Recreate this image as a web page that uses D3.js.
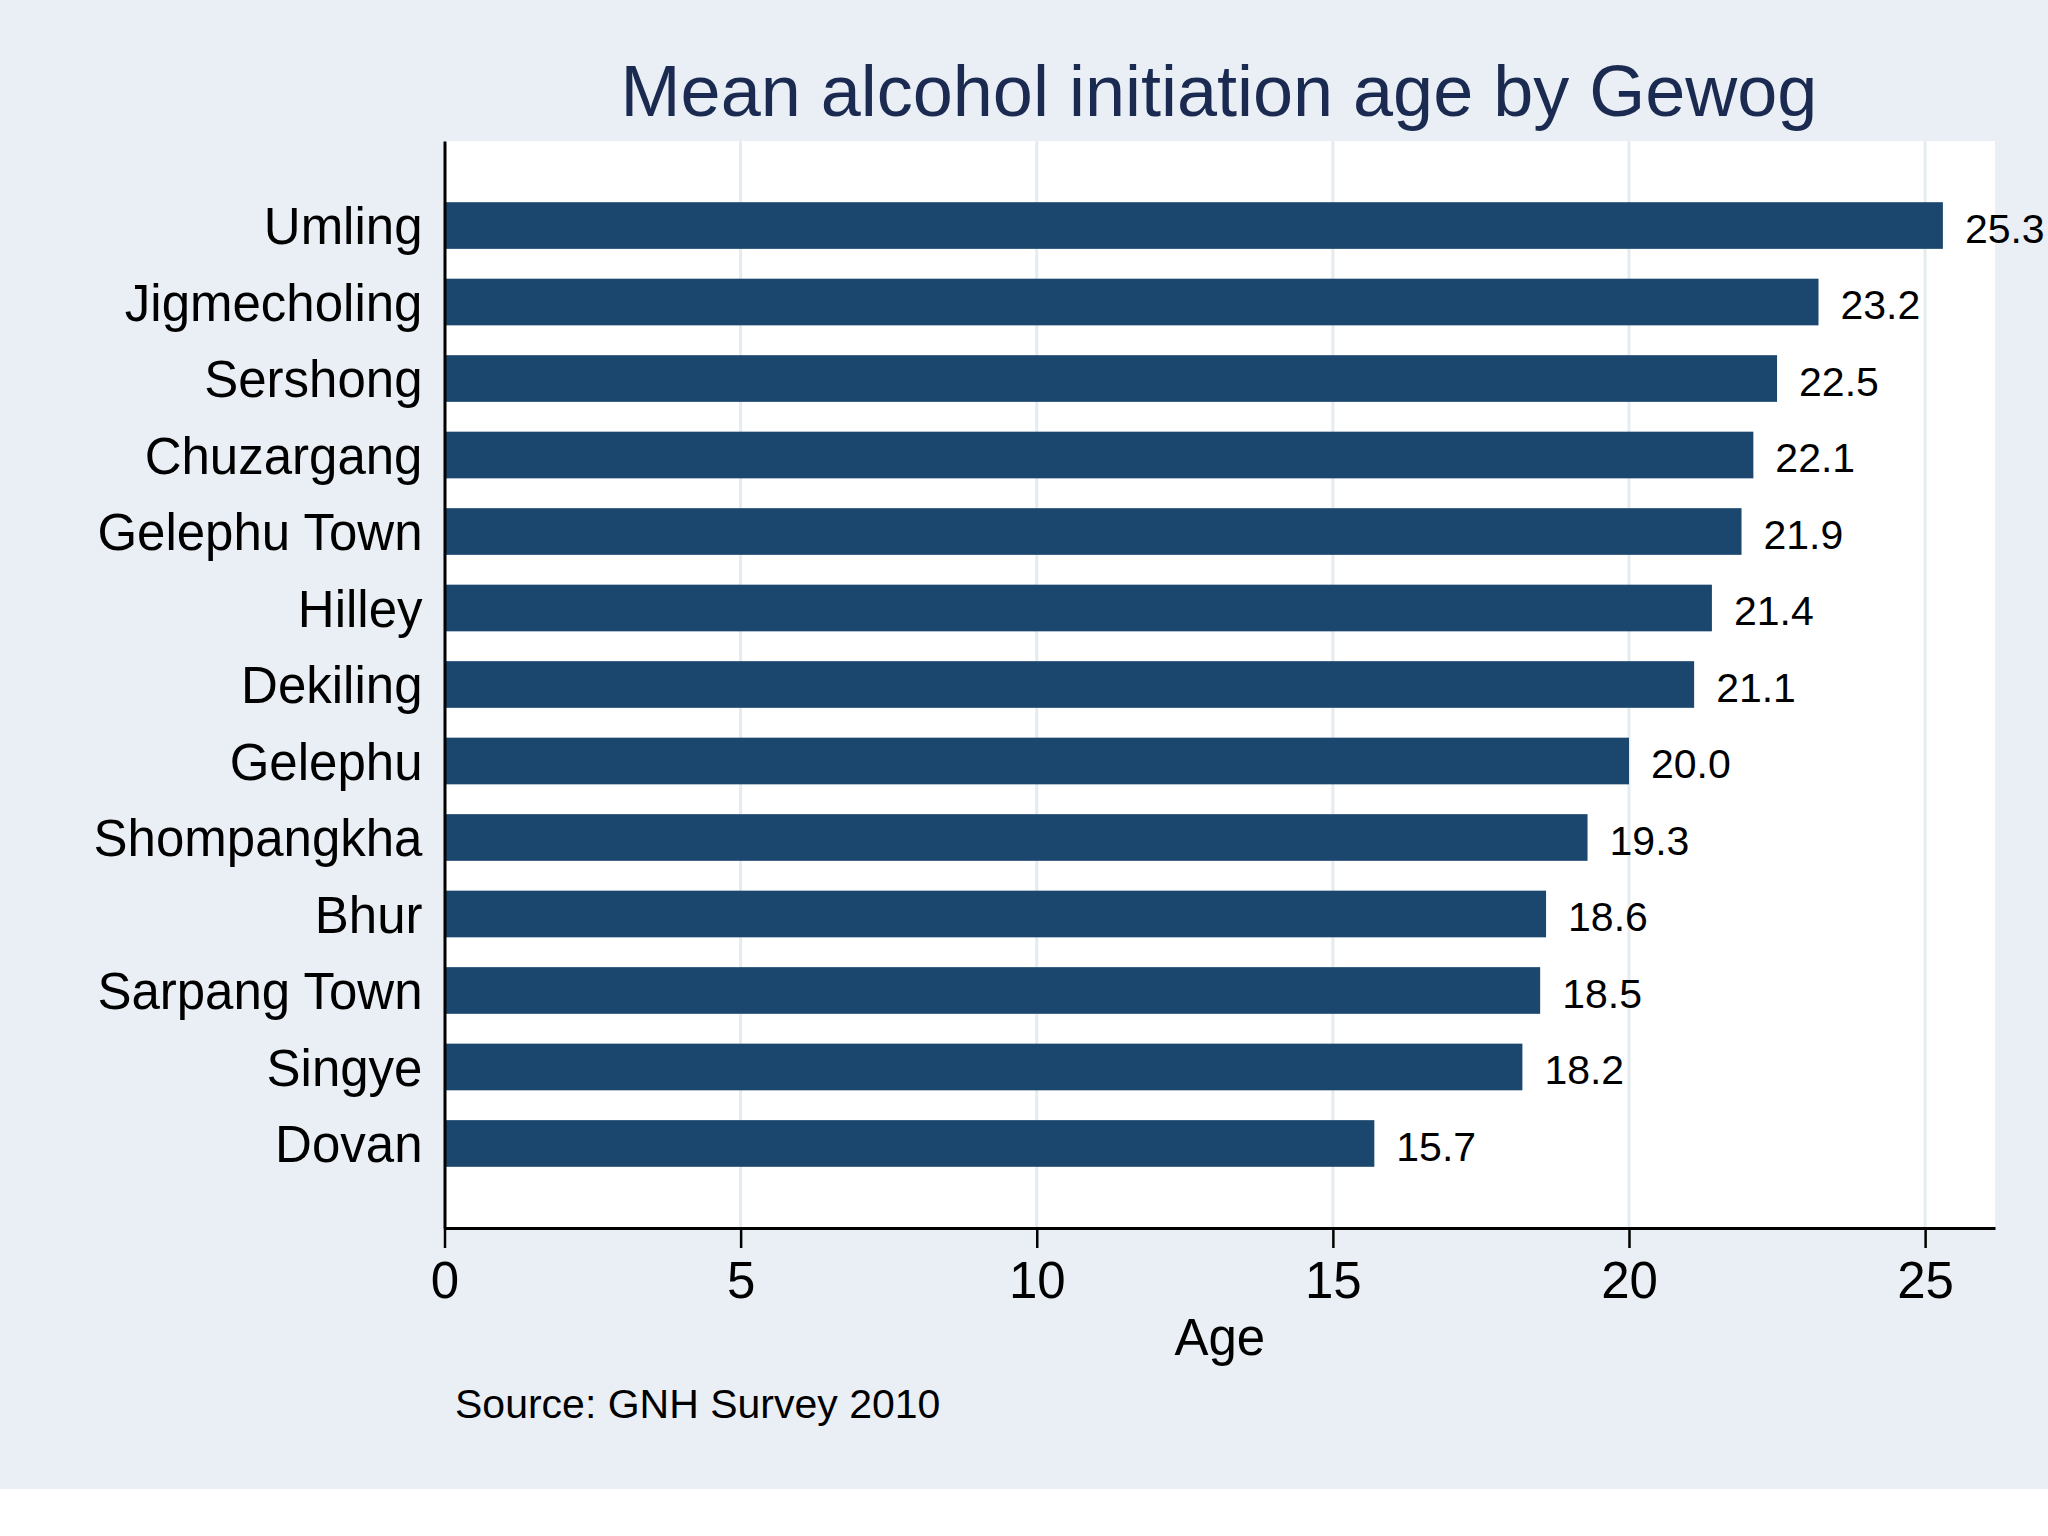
<!DOCTYPE html>
<html>
<head>
<meta charset="utf-8">
<script src="https://cdn.jsdelivr.net/npm/d3@7"></script>
<style>
  body { margin: 0; background: #ffffff; }
  svg { display: block; }
  text { font-family: "Liberation Sans", Arial, Helvetica, sans-serif; }
</style>
</head>
<body>
<div id="chart"></div>
<script>
//////////////////// data
var gewogs = ["Umling", "Jigmecholing", "Sershong", "Chuzargang", "Gelephu Town", "Hilley",
              "Dekiling", "Gelephu", "Shompangkha", "Bhur", "Sarpang Town", "Singye", "Dovan"];
var ages = [25.3, 23.2, 22.5, 22.1, 21.9, 21.4, 21.1, 20.0, 19.3, 18.6, 18.5, 18.2, 15.7];
var xTicks = [0, 5, 10, 15, 20, 25];

var titleText = "Mean alcohol initiation age by Gewog";
var xLabel = "Age";
var sourceText = "Source: GNH Survey 2010";

//////////////////// layout
var W = 2048, H = 1536;
var plot = { left: 444.5, right: 1995, top: 141, bottom: 1228 };
var colBar = "#1b476f", colBg = "#eaeff5", colGrid = "#e4ecf0", colTitle = "#1b2a50";

(function(){
  var svg = d3.select("#chart")
    .append("svg")
      .attr("width", W)
      .attr("height", H);

  // outer background (stops short of page bottom)
  svg.append("rect")
    .attr("x", 0).attr("y", 0)
    .attr("width", W).attr("height", 1489)
    .attr("fill", colBg);

  // plot region
  svg.append("rect")
    .attr("x", plot.left).attr("y", plot.top)
    .attr("width", plot.right - plot.left)
    .attr("height", plot.bottom - plot.top)
    .attr("fill", "#ffffff");

  ///////////////////////////////////////// scales
  var x = d3.scaleLinear()
    .domain([0, 26.18])
    .range([plot.left, plot.right]);

  var y = d3.scaleBand()
    .domain(gewogs)
    .range([plot.top, plot.bottom])
    .paddingInner(0.39)
    .paddingOuter(0.8);

  // grid lines
  svg.append("g")
    .selectAll("line")
    .data(xTicks)
    .enter().append("line")
      .attr("x1", function(d){ return x(d); })
      .attr("x2", function(d){ return x(d); })
      .attr("y1", plot.top)
      .attr("y2", plot.bottom)
      .attr("stroke", colGrid)
      .attr("stroke-width", 3);

  // bars
  svg.append("g")
    .selectAll("rect")
    .data(ages)
    .enter().append("rect")
      .attr("x", x(0))
      .attr("y", function(d, i){ return y(gewogs[i]); })
      .attr("width", function(d){ return x(d) - x(0); })
      .attr("height", y.bandwidth())
      .attr("fill", colBar);

  // value labels
  svg.append("g")
    .selectAll("text")
    .data(ages)
    .enter().append("text")
      .attr("x", function(d){ return x(d) + 22; })
      .attr("y", function(d, i){ return y(gewogs[i]) + y.bandwidth() / 2; })
      .attr("dy", "0.42em")
      .style("font-size", "41px")
      .attr("fill", "#000")
      .text(function(d){ return d.toFixed(1); });

  ///////////////////////////////////////// X Axis
  var xAxis = svg.append("g")
    .attr("transform", "translate(0," + plot.bottom + ")")
    .call(d3.axisBottom(x)
      .tickValues(xTicks)
      .tickSize(20)
      .tickSizeOuter(0));
  xAxis.select(".domain").attr("stroke", "#000").attr("stroke-width", 3);
  xAxis.selectAll(".tick line").attr("stroke", "#000").attr("stroke-width", 2.5);
  xAxis.selectAll(".tick text")
    .attr("y", 70).attr("dy", 0)
    .attr("fill", "#000")
    .style("font-size", "51px")
    .style("font-family", "'Liberation Sans', Arial, sans-serif");

  // text label for the x axis
  svg.append("text")
    .attr("x", (plot.left + plot.right) / 2)
    .attr("y", 1355)
    .style("text-anchor", "middle")
    .style("font-size", "51px")
    .text(xLabel);

  ///////////////////////////////////////// Y Axis
  var yAxis = svg.append("g")
    .attr("transform", "translate(" + plot.left + ",0)")
    .call(d3.axisLeft(y)
      .tickSize(0)
      .tickPadding(22));
  yAxis.select(".domain").attr("stroke", "#000").attr("stroke-width", 3);
  yAxis.selectAll(".tick text")
    .attr("dy", "0.37em")
    .attr("fill", "#000")
    .style("font-size", "51px")
    .style("font-family", "'Liberation Sans', Arial, sans-serif");

  // title
  svg.append("text")
    .attr("x", 1219)
    .attr("y", 116)
    .style("text-anchor", "middle")
    .style("font-size", "72px")
    .attr("fill", colTitle)
    .text(titleText);

  // source note
  svg.append("text")
    .attr("x", 455)
    .attr("y", 1418)
    .style("font-size", "41px")
    .attr("fill", "#000")
    .text(sourceText);
})();
</script>
</body>
</html>
